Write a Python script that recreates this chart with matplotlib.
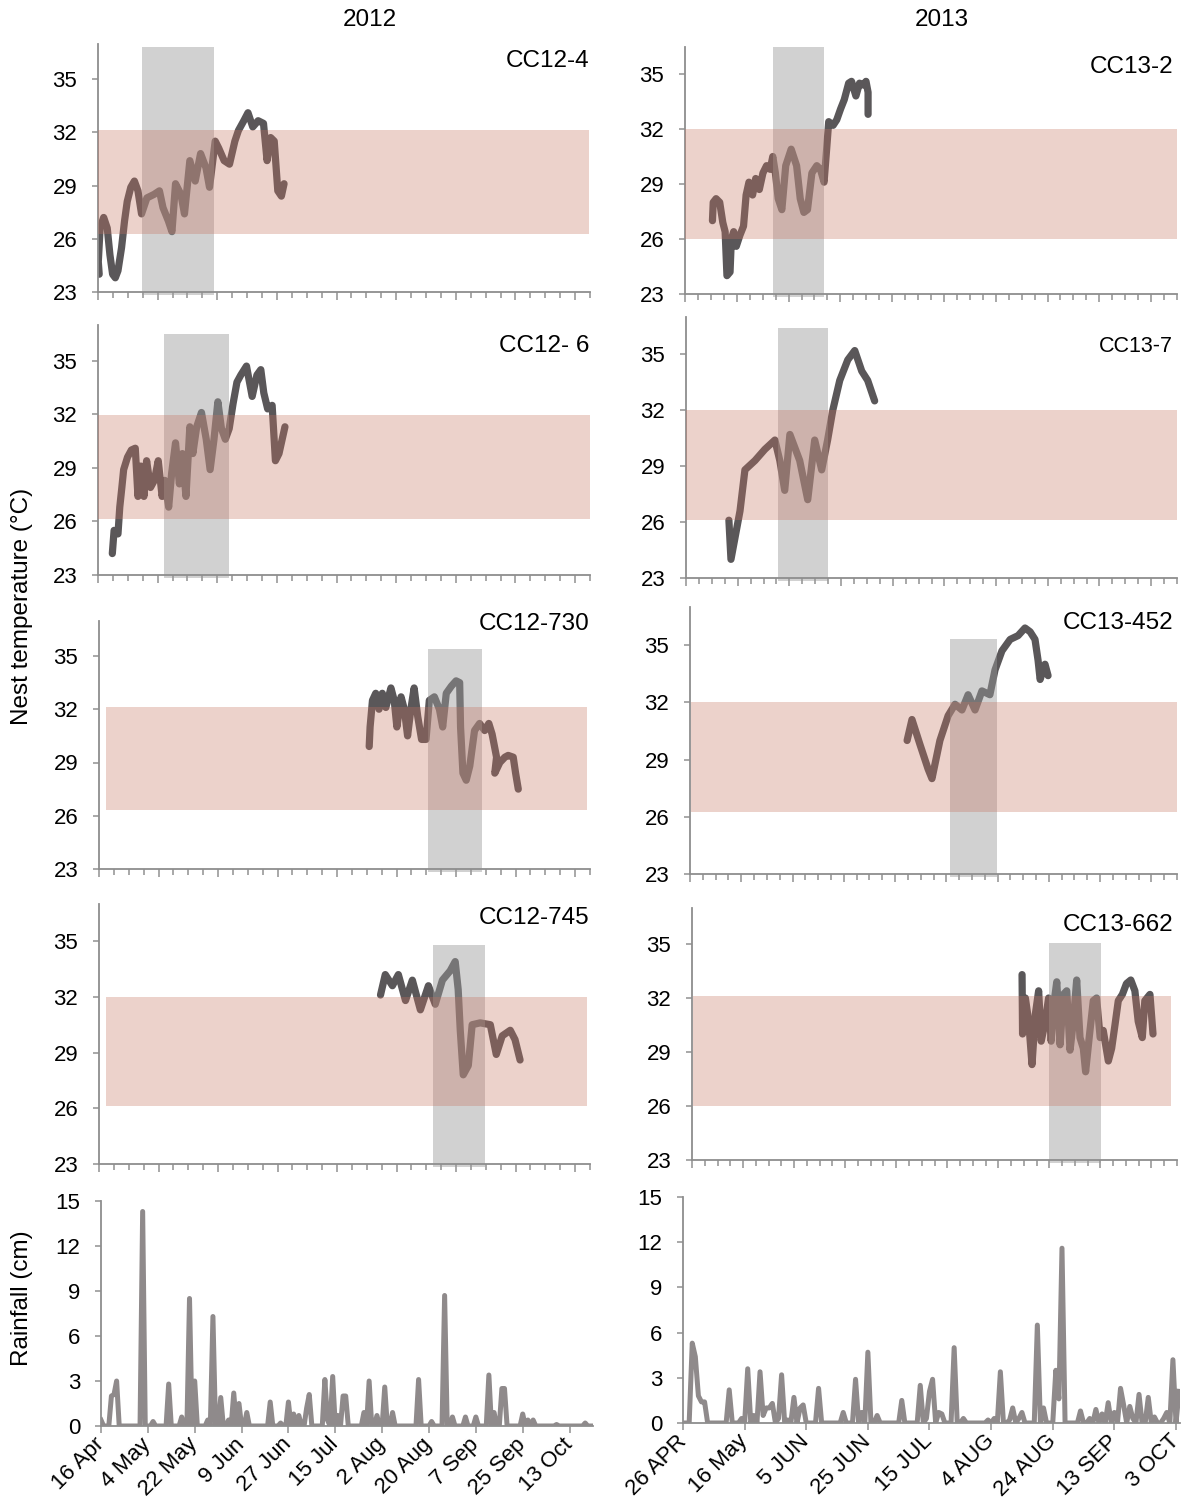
import numpy as np
import matplotlib
matplotlib.use('Agg')
import matplotlib.pyplot as plt
from matplotlib.ticker import MultipleLocator

plt.rcParams['font.family'] = ['Liberation Sans', 'DejaVu Sans']

# ---- nest temperature series (x = days since logging start, y = deg C) ----
l1_day = [0.4, 0.1, 0.7, 1.9, 3.1, 4.0, 4.9, 5.8, 6.7, 7.9, 8.9, 9.8, 11.0, 12.2, 13.4, 14.6, 16.4,
          18.8, 20.6, 21.8, 23.6, 24.8, 26.0, 27.8, 29.0, 30.8, 32.6, 34.4, 36.2, 37.4, 39.3, 40.5,
          42.3, 44.1, 45.9, 47.1, 48.9, 50.3, 51.9, 53.7, 55.5, 56.7, 57.9, 59.1, 60.3, 61.5, 62.4]
l1_temp = [24.0, 24.7, 26.6, 27.2, 26.6, 25.1, 24.0, 23.8, 24.2, 25.5, 27.0, 28.1, 28.9, 29.25, 28.7,
           27.4, 28.3, 28.5, 28.7, 27.75, 27.0, 26.4, 29.1, 28.5, 27.4, 30.4, 29.25, 30.8, 30.0, 28.9,
           31.5, 31.1, 30.4, 30.2, 31.5, 32.1, 32.65, 33.1, 32.3, 32.65, 32.5, 30.4, 31.7, 31.5, 28.7,
           28.4, 29.1]

l2_day = [4.8, 5.4, 6.7, 7.3, 8.0, 8.6, 9.9, 11.2, 12.5, 13.4, 14.4, 15.4, 16.3, 17.6, 18.9, 20.2,
          21.5, 22.4, 23.7, 24.7, 26.0, 27.3, 28.3, 29.5, 30.8, 31.8, 33.1, 34.7, 36.3, 37.6, 38.9,
          40.2, 41.4, 42.7, 44.0, 45.3, 46.6, 47.9, 49.8, 51.7, 53.3, 54.6, 55.6, 56.9, 58.4, 59.5,
          60.7, 62.7]
l2_temp = [24.2, 25.5, 25.3, 26.8, 27.9, 28.9, 29.6, 30.0, 30.1, 27.4, 29.1, 27.4, 29.4, 27.9, 28.3,
           29.4, 27.4, 28.3, 26.8, 28.7, 30.4, 28.1, 29.8, 27.4, 31.3, 29.8, 31.3, 32.1, 30.6, 28.9,
           30.6, 32.7, 31.2, 30.6, 31.2, 32.6, 33.8, 34.2, 34.7, 33.0, 34.2, 34.5, 33.2, 32.3, 32.5,
           29.4, 29.8, 31.3]

l3_day = [90.8, 91.1, 91.9, 93.0, 94.1, 95.2, 96.4, 98.1, 99.2, 100.1, 101.5, 102.6, 103.7, 104.8,
          105.9, 107.1, 108.4, 109.9, 111.0, 112.7, 114.4, 115.5, 116.7, 118.4, 120.0, 121.2, 121.5,
          122.3, 123.4, 124.6, 126.2, 127.9, 129.6, 131.0, 132.1, 133.6, 133.0, 134.7, 136.4, 137.5,
          139.2, 140.0, 140.9]
l3_temp = [29.9, 31.0, 32.5, 32.9, 32.0, 32.9, 32.1, 33.2, 32.5, 31.0, 32.7, 32.0, 30.5, 32.0, 33.2,
           31.6, 30.3, 30.3, 32.5, 32.7, 32.0, 31.0, 32.9, 33.3, 33.6, 33.5, 31.0, 28.4, 28.0, 28.8,
           30.8, 31.2, 30.8, 31.2, 30.6, 29.3, 28.4, 29.0, 29.3, 29.4, 29.3, 28.4, 27.5]

l4_day = [94.6, 96.2, 98.6, 100.6, 103.0, 105.3, 108.0, 110.7, 113.0, 115.4, 118.0, 119.7, 120.7,
          121.4, 122.4, 124.1, 125.4, 128.1, 131.5, 133.5, 135.5, 138.2, 139.8, 141.5]
l4_temp = [32.1, 33.2, 32.6, 33.2, 31.8, 32.9, 31.3, 32.6, 31.6, 32.9, 33.4, 33.9, 32.4, 30.2, 27.8,
           28.3, 30.5, 30.6, 30.5, 28.9, 29.9, 30.2, 29.7, 28.6]

r1_day = [10.6, 10.9, 12.0, 13.4, 14.6, 15.5, 16.2, 17.4, 17.9, 18.8, 19.8, 21.2, 22.6, 23.6, 24.7,
          26.1, 27.3, 28.7, 30.1, 31.5, 32.9, 33.9, 34.9, 36.0, 37.4, 38.9, 41.0, 43.1, 44.5, 45.9,
          47.3, 49.0, 50.9, 52.3, 53.7, 54.7, 55.5, 57.2, 58.6, 60.1, 61.5, 63.2, 64.3, 66.0, 67.4,
          68.8, 69.9, 70.7, 70.7]
r1_temp = [27.0, 28.0, 28.2, 28.0, 26.9, 26.4, 24.0, 24.2, 26.0, 26.4, 25.6, 26.2, 26.7, 28.4, 29.1,
           28.4, 29.3, 28.7, 29.6, 30.0, 29.8, 30.5, 29.6, 28.2, 27.6, 30.0, 30.9, 30.0, 28.2, 27.45,
           27.6, 29.6, 30.0, 29.8, 29.1, 30.9, 32.4, 32.2, 32.5, 33.1, 33.6, 34.5, 34.6, 33.8, 34.5,
           34.4, 34.6, 34.0, 32.8]

r2_day = [16.6, 17.4, 20.9, 22.8, 26.7, 30.5, 34.4, 36.3, 38.2, 40.2, 44.0, 47.1, 49.8, 52.5, 54.8,
          56.8, 59.5, 62.6, 65.3, 68.0, 70.3, 73.0]
r2_temp = [26.1, 24.0, 26.6, 28.8, 29.3, 29.9, 30.4, 29.3, 27.7, 30.7, 29.3, 27.2, 30.4, 28.8, 30.4,
           32.0, 33.6, 34.7, 35.2, 34.1, 33.6, 32.5]

r3_day = [84.7, 86.6, 89.7, 92.9, 94.4, 97.5, 100.7, 103.4, 106.1, 108.5, 111.2, 113.9, 117.0, 119.0,
          121.7, 124.9, 128.0, 130.7, 132.7, 134.6, 135.8, 136.6, 138.5, 139.7]
r3_temp = [30.0, 31.1, 29.8, 28.5, 28.0, 30.0, 31.3, 31.9, 31.6, 32.4, 31.6, 32.6, 32.4, 33.7, 34.7,
           35.3, 35.5, 35.9, 35.7, 35.3, 34.2, 33.2, 34.0, 33.4]

r4_day = [129.3, 129.5, 130.6, 131.9, 133.2, 134.5, 135.8, 136.8, 138.4, 139.7, 140.7, 141.6, 142.9,
          144.2, 145.5, 146.8, 148.1, 149.4, 150.7, 152.0, 153.3, 154.2, 155.6, 157.2, 158.5, 159.9,
          161.1, 163.1, 164.4, 165.7, 167.0, 168.6, 170.2, 171.9, 173.5, 174.8, 176.4, 177.4, 179.4,
          180.6]
r4_temp = [33.3, 30.0, 32.0, 30.7, 28.3, 31.1, 32.4, 29.6, 30.7, 32.0, 29.6, 31.5, 32.9, 29.4, 32.2,
           32.4, 29.1, 30.7, 33.0, 29.8, 29.2, 27.9, 29.8, 31.85, 32.0, 29.8, 30.2, 28.5, 29.2, 30.5,
           31.85, 32.2, 32.8, 33.0, 32.4, 30.7, 29.8, 31.85, 32.2, 30.0]

# pivotal temperature range (pink) and rain / incubation window (grey), in data units
pink_x = [(0, 164.7), (0, 165), (2.3, 164), (2.3, 164), (0, 190), (0, 190), (0.4, 190), (0.4, 187.7)]
pink_y = [(26.25, 32.1), (26.15, 31.95), (26.3, 32.1), (26.15, 32.0),
          (26.0, 32.0), (26.1, 32.0), (26.25, 32.0), (26.0, 32.1)]
grey_x = [(14.9, 38.9), (22.1, 44.0), (110.5, 128.7), (112.3, 129.8),
          (33.9, 53.8), (35.5, 54.8), (101.4, 119.8), (139.7, 160.1)]
grey_top = [36.8, 36.5, 35.4, 34.8, 36.45, 36.4, 35.3, 35.05]
names = ['CC12-4', 'CC12- 6', 'CC12-730', 'CC12-745', 'CC13-2', 'CC13-7', 'CC13-452', 'CC13-662']

# ---- rainfall (day offset from first tick, cm) ----
rain12_day = [0, 4, 5, 6, 16, 20, 26, 31, 34, 36, 41, 43, 46, 49, 51, 53, 56, 65, 69, 72, 74, 76,
              79, 80, 86, 87, 89, 91, 93, 94, 101, 103, 106, 109, 112, 122, 127, 132, 135, 140,
              144, 149, 151, 154, 155, 162, 164, 166, 175, 186]
rain12_cm = [0.4, 2.0, 2.1, 3.0, 14.3, 0.3, 2.8, 0.6, 8.5, 3.0, 0.4, 7.3, 1.9, 0.4, 2.2, 1.5, 0.9,
             1.6, 0.2, 1.6, 0.8, 0.7, 1.2, 2.1, 3.1, 0.4, 3.3, 0.7, 2.0, 2.0, 0.9, 3.0, 0.7, 2.6,
             0.9, 3.1, 0.3, 8.7, 0.6, 0.6, 0.6, 3.4, 0.9, 2.5, 2.5, 0.8, 0.4, 0.4, 0.1, 0.2]
rain13_day = [3, 4, 5, 6, 7, 15, 19, 21, 23, 25, 26, 27, 28, 29, 31, 32, 34, 36, 38, 39, 44, 52,
              56, 58, 60, 63, 71, 77, 79, 80, 81, 83, 84, 88, 91, 99, 101, 103, 106, 107, 109, 110,
              115, 117, 121, 122, 123, 129, 132, 134, 136, 138, 140, 142, 143, 145, 146, 148, 151,
              153, 156, 157, 159, 161]
rain13_cm = [5.3, 4.4, 1.8, 1.4, 1.4, 2.2, 0.3, 3.6, 0.5, 3.4, 0.5, 1.0, 1.0, 1.3, 0.3, 3.2, 0.2,
             1.7, 1.0, 1.2, 2.3, 0.7, 2.9, 0.7, 4.7, 0.5, 1.5, 2.5, 0.3, 2.1, 2.9, 0.7, 0.6, 5.0,
             0.3, 0.2, 0.3, 3.4, 0.2, 1.0, 0.3, 0.7, 6.5, 1.0, 3.5, 1.6, 11.6, 0.8, 0.3, 0.9, 0.6,
             1.35, 0.7, 2.3, 1.2, 1.1, 0.3, 1.9, 1.7, 0.4, 0.3, 0.7, 4.2, 2.1]
rain12_ticks = ['16 Apr', '4 May', '22 May', '9 Jun', '27 Jun', '15 Jul', '2 Aug', '20 Aug',
                '7 Sep', '25 Sep', '13 Oct']
rain13_ticks = ['26 APR', '16 May', '5 JUN', '25 JUN', '15 JUL', '4 AUG', '24 AUG', '13 SEP',
                '3 OCT']

temp_days = [l1_day, l2_day, l3_day, l4_day, r1_day, r2_day, r3_day, r4_day]
temp_vals = [l1_temp, l2_temp, l3_temp, l4_temp, r1_temp, r2_temp, r3_temp, r4_temp]

W, H = 1194, 1499
fig = plt.figure(figsize=(W / 100, H / 100), dpi=100)

def px_axes(x0, x1, ytop, ybot):
    return fig.add_axes([x0 / W, 1 - ybot / H, (x1 - x0) / W, (ybot - ytop) / H])

spine_col = '#8e8e8e'
tick_col = '#9a9a9a'

def style(ax):
    for s in ['top', 'right']:
        ax.spines[s].set_visible(False)
    for s in ['left', 'bottom']:
        ax.spines[s].set_color(spine_col)
        ax.spines[s].set_linewidth(1.3)
    ax.tick_params(axis='both', which='both', color=tick_col, width=1.2, labelsize=16)

# panel boxes in pixels: x0, x1, y(top), y(23)
temp_boxes = [(98, 590, 43.5, 292), (98, 590, 325, 575), (99, 590, 620.5, 869), (99, 590, 904, 1164),
              (685, 1177, 46.5, 294), (686, 1177, 317, 578), (690, 1177, 607, 874), (692, 1177, 908, 1160)]
temp_top = [37, 37, 37, 37, 36.5, 37, 37, 37]
label_pos = [(589, 61), (589, 346), (589, 624), (589, 918),
             (1173, 67), (1173, 347), (1173, 623), (1173, 925)]
label_size = [17.5, 17.5, 17.5, 17.5, 17.5, 15.5, 17.5, 17.5]

for i in range(8):
    x0, x1, yt, yb = temp_boxes[i]
    ax = px_axes(x0, x1, yt, yb)
    style(ax)
    xmax = 165 if i < 4 else 190
    ax.plot(temp_days[i], temp_vals[i], color='#5a5759', lw=5.2,
            solid_joinstyle='round', solid_capstyle='round', zorder=1)
    ax.fill_between(grey_x[i], 22.85, grey_top[i], color='#9a9a9a', alpha=0.45, lw=0,
                    zorder=2, clip_on=False)
    ax.fill_between(pink_x[i], pink_y[i][0], pink_y[i][1], color='#c67360', alpha=0.32, lw=0,
                    zorder=3)
    ax.set_xlim(0, xmax)
    ax.set_ylim(23, temp_top[i])
    ax.set_yticks([23, 26, 29, 32, 35])
    ax.xaxis.set_major_locator(MultipleLocator(20))
    ax.xaxis.set_minor_locator(MultipleLocator(5))
    ax.tick_params(axis='x', which='major', length=6, labelbottom=False)
    ax.tick_params(axis='x', which='minor', length=4)
    ax.tick_params(axis='y', length=4, pad=11)
    lx, ly = label_pos[i]
    fig.text(lx / W, 1 - ly / H, names[i], ha='right', va='center', fontsize=label_size[i])

# rainfall panels
rain_sets = [
    (rain12_day, rain12_cm, rain12_ticks, 18, 190, 189, (101, 593, 1201, 1426)),
    (rain13_day, rain13_cm, rain13_ticks, 20, 162, 161.3, (683, 1180, 1197, 1423)),
]
for days, cm, labels, step, n, xmax, box in rain_sets:
    daily = np.zeros(n)
    daily[days] = cm
    ax = px_axes(*box)
    style(ax)
    ax.plot(np.arange(n), daily, color='#8f8a8b', lw=3.6, solid_joinstyle='round')
    ax.set_xlim(0, xmax)
    ax.set_ylim(0, 15)
    ax.set_yticks([0, 3, 6, 9, 12, 15])
    ax.set_xticks(np.arange(len(labels)) * step)
    ax.set_xticklabels(labels, rotation=45, ha='right', va='center', rotation_mode='anchor')
    ax.tick_params(axis='x', length=5, pad=6)
    ax.tick_params(axis='y', length=4, pad=11)

fig.text(370 / W, 1 - 20 / H, '2012', ha='center', va='center', fontsize=17.5)
fig.text(942 / W, 1 - 20 / H, '2013', ha='center', va='center', fontsize=17.5)
fig.text(22 / W, 1 - 606 / H, 'Nest temperature (°C)', rotation=90, ha='center', va='center',
         fontsize=17.5)
fig.text(22 / W, 1 - 1298 / H, 'Rainfall (cm)', rotation=90, ha='center', va='center',
         fontsize=17.5)

fig.savefig('out.png', dpi=100)
